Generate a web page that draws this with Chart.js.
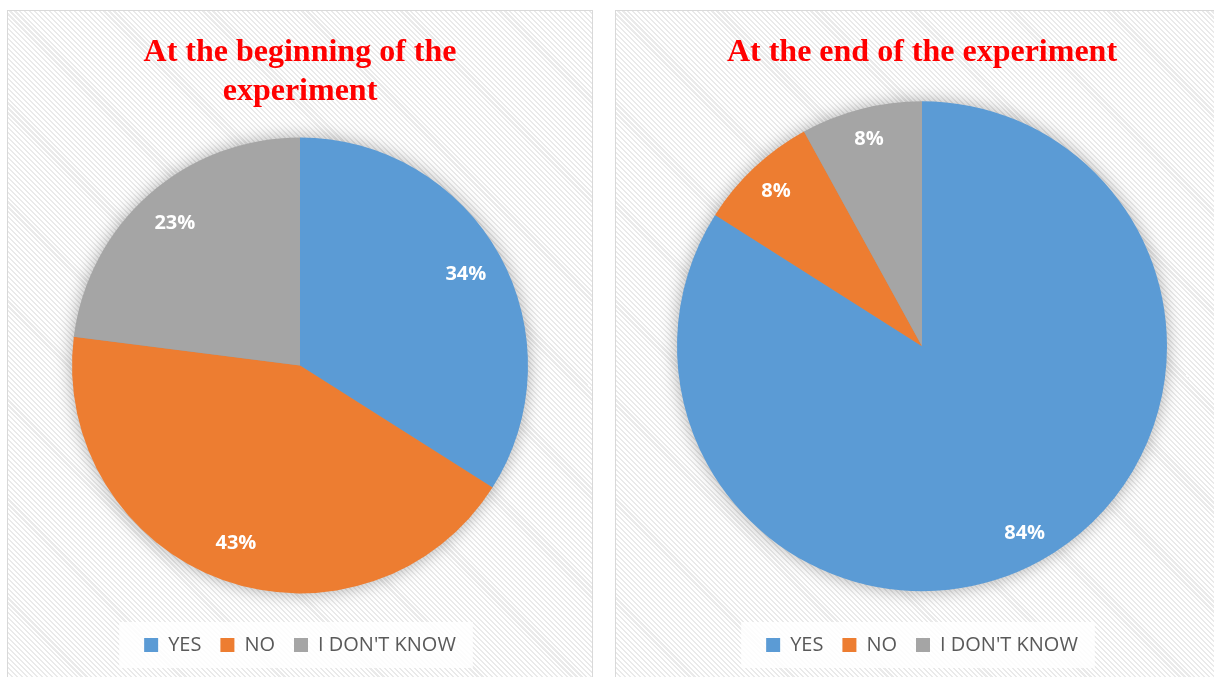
<!DOCTYPE html>
<html lang="en">
<head>
  <meta charset="UTF-8" />
  <title>Experiment pies</title>
  <script src="https://cdn.jsdelivr.net/npm/chart.js"></script>
  <style>
    body {
      margin: 0;
      background: #fff;
      width: 1214px;
      height: 677px;
      overflow: hidden;
      position: relative;
    }
    .panel {
      position: absolute;
      top: 10px;
      border: 1px solid #d9d9d9;
      overflow: hidden;
      background: repeating-linear-gradient(45deg, #ffffff 0 2px, #eaeaea 2px 3.5px);
    }
    #left { left: 7px; width: 584px; height: 680px; }
    #right { left: 615px; width: 612px; height: 680px; }
    canvas { display: block; }
  </style>
</head>
<body>
  <div class="panel" id="left"><canvas id="pieStart" width="584" height="680"></canvas></div>
  <div class="panel" id="right"><canvas id="pieEnd" width="612" height="680"></canvas></div>

  <script>
    const categories = ['YES', 'NO', "I DON'T KNOW"];
    const startValues = [34, 43, 23];
    const endValues = [84, 8, 8];
    const colors = ['#5B9BD5', '#ED7D31', '#A5A5A5'];

    // soft shadow under the pie + white box behind legend + % labels
    const pieExtras = {
      id: 'pieExtras',
      beforeDatasetsDraw(chart) {
        const arc = chart.getDatasetMeta(0).data[0];
        if (!arc) return;
        const ctx = chart.ctx;
        ctx.save();
        ctx.shadowColor = 'rgba(0,0,0,0.35)';
        ctx.shadowBlur = 18;
        ctx.fillStyle = '#999';
        ctx.beginPath();
        ctx.arc(arc.x, arc.y, arc.outerRadius - 1, 0, Math.PI * 2);
        ctx.fill();
        ctx.restore();
      },
      beforeDraw(chart) {
        const boxes = chart.legend.legendHitBoxes;
        if (!boxes || !boxes.length) return;
        let x0 = Infinity, x1 = -Infinity, y0 = Infinity, y1 = -Infinity;
        boxes.forEach(b => {
          x0 = Math.min(x0, b.left); x1 = Math.max(x1, b.left + b.width);
          y0 = Math.min(y0, b.top); y1 = Math.max(y1, b.top + b.height);
        });
        const ctx = chart.ctx;
        ctx.save();
        ctx.fillStyle = 'rgba(255,255,255,0.85)';
        ctx.fillRect(x0 - 25, y0 - 13, x1 - x0 + 42, y1 - y0 + 26);
        ctx.restore();
      },
      afterDatasetsDraw(chart, args, opts) {
        const ctx = chart.ctx;
        const data = chart.data.datasets[0].data;
        ctx.save();
        ctx.fillStyle = '#fff';
        ctx.font = 'bold 20px "Open Sans", sans-serif';
        ctx.textAlign = 'center';
        ctx.textBaseline = 'middle';
        chart.getDatasetMeta(0).data.forEach((a, i) => {
          const mid = (a.startAngle + a.endAngle) / 2;
          const r = a.outerRadius * opts.labelRadius;
          ctx.fillText(data[i] + '%', a.x + Math.cos(mid) * r, a.y + Math.sin(mid) * r);
        });
        ctx.restore();
      }
    };

    function makePie(id, values, titleLines, sidePad, labelRadius) {
      return new Chart(document.getElementById(id), {
        type: 'pie',
        data: {
          labels: categories,
          datasets: [{
            data: values,
            backgroundColor: colors,
            borderWidth: 0
          }]
        },
        plugins: [pieExtras],
        options: {
          responsive: false,
          animation: false,
          layout: { padding: { left: sidePad, right: sidePad, bottom: 26 } },
          plugins: {
            title: {
              display: true,
              text: titleLines,
              color: '#FF0000',
              font: { family: '"Liberation Serif", "Times New Roman", serif', size: 32, weight: 'bold', lineHeight: 1.2 },
              padding: { top: 23, bottom: 4 }
            },
            legend: {
              position: 'bottom',
              labels: {
                color: '#595959',
                font: { family: '"Open Sans", sans-serif', size: 20 },
                boxWidth: 14,
                boxHeight: 14,
                padding: 19
              }
            },
            tooltip: { enabled: false },
            pieExtras: { labelRadius: labelRadius }
          }
        }
      });
    }

    makePie('pieStart', startValues, ['At the beginning of the', 'experiment'], 64, 0.83);
    makePie('pieEnd', endValues, ['At the end of the experiment'], 61, 0.87);
  </script>
</body>
</html>
